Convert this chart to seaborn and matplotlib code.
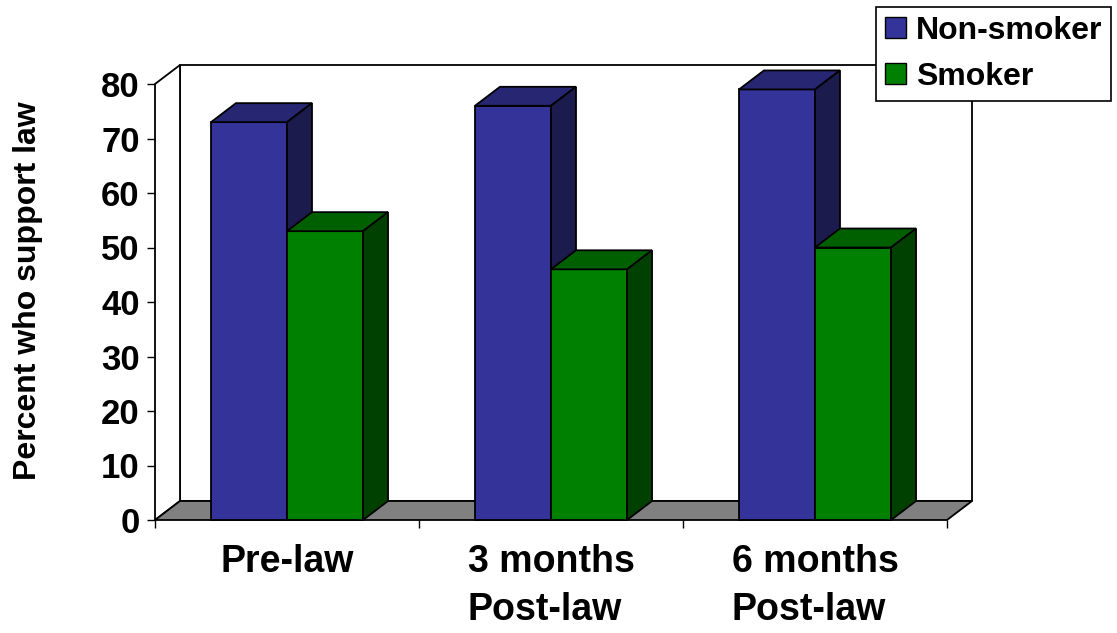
import numpy as np
import pandas as pd
import matplotlib
matplotlib.use("Agg")
import matplotlib.pyplot as plt
import seaborn as sns
from matplotlib.patches import Polygon, Patch

# ---- data ----
categories = ["Pre-law", "3 months\nPost-law", "6 months\nPost-law"]
series = ["Non-smoker", "Smoker"]
non_smoker = [73, 76, 79]
smoker = [53, 46, 50]
y_ticks = [0, 10, 20, 30, 40, 50, 60, 70, 80]
y_label = "Percent who support law"

# ---- styles ----
front_colors = {"Non-smoker": "#333399", "Smoker": "#008000"}
top_colors = {"Non-smoker": "#262673", "Smoker": "#006000"}
side_colors = {"Non-smoker": "#1b1b4d", "Smoker": "#004000"}

df = pd.DataFrame({
    "category": categories * 2,
    "group": [series[0]] * len(categories) + [series[1]] * len(categories),
    "value": non_smoker + smoker,
})

sns.set_theme(style="white")
plt.rcParams["font.family"] = ["Liberation Sans", "DejaVu Sans"]
plt.rcParams["font.weight"] = "bold"
plt.rcParams["text.color"] = "black"

W, H = 1117, 633
fig = plt.figure(figsize=(W / 100, H / 100), dpi=100)
ax = fig.add_axes([155 / W, 113 / H, 792 / W, 436 / H])

sns.barplot(data=df, x="category", y="value", hue="group", order=categories,
            hue_order=series, palette=front_colors, width=0.576, saturation=1,
            errorbar=None, edgecolor="black", linewidth=1.3, legend=False, ax=ax)

# bars grouped by series via containers
bar_groups = []
for gi, cont in enumerate(ax.containers):
    for p in cont.patches:
        bar_groups.append((p, series[gi]))

ymax = y_ticks[-1]
n_cat = len(categories)
ax.set_xlim(-0.5, n_cat - 0.5)
ax.set_ylim(0, ymax)
for s in ax.spines.values():
    s.set_visible(False)

# depth offset (pixels -> data units)
ppx = ax.bbox.width / n_cat
ppy = ax.bbox.height / ymax
DX = 25 / ppx
DY = 19 / ppy

x0, x1 = -0.5, n_cat - 0.5
lw = 1.3
# back wall, left wall, floor
ax.add_patch(Polygon([(x0 + DX, DY), (x1 + DX, DY), (x1 + DX, ymax + DY), (x0 + DX, ymax + DY)],
                     closed=True, facecolor="white", edgecolor="black", lw=lw, zorder=0.2, clip_on=False))
ax.add_patch(Polygon([(x0, 0), (x0, ymax), (x0 + DX, ymax + DY), (x0 + DX, DY)],
                     closed=True, facecolor="white", edgecolor="black", lw=lw, zorder=0.3, clip_on=False))
ax.add_patch(Polygon([(x0, 0), (x1, 0), (x1 + DX, DY), (x0 + DX, DY)],
                     closed=True, facecolor="#808080", edgecolor="black", lw=lw, zorder=0.4, clip_on=False))

# 3D faces on bars, painter's order left to right
bar_groups.sort(key=lambda t: t[0].get_x())
for i, (bar, grp) in enumerate(bar_groups):
    z = 2 + i
    bx0 = bar.get_x()
    bx1 = bx0 + bar.get_width()
    h = bar.get_height()
    bar.set_zorder(z)
    bar.set_clip_on(False)
    ax.add_patch(Polygon([(bx0, h), (bx1, h), (bx1 + DX, h + DY), (bx0 + DX, h + DY)],
                         closed=True, facecolor=top_colors[grp], edgecolor="black",
                         lw=lw, zorder=z, clip_on=False))
    ax.add_patch(Polygon([(bx1, 0), (bx1, h), (bx1 + DX, h + DY), (bx1 + DX, DY)],
                         closed=True, facecolor=side_colors[grp], edgecolor="black",
                         lw=lw, zorder=z, clip_on=False))

# ticks
ax.set_yticks(y_ticks)
ax.set_yticklabels([str(t) for t in y_ticks])
ax.tick_params(axis="y", left=True, length=6, width=1.0, pad=5, labelsize=25,
               colors="black")
ax.set_xticks(np.arange(n_cat + 1) - 0.5)
ax.set_xticklabels([])
ax.set_xticks(np.arange(n_cat), minor=True)
ax.set_xticklabels(categories, minor=True)
ax.tick_params(axis="x", which="major", bottom=True, length=6, width=1.0, colors="black")
ax.tick_params(axis="x", which="minor", bottom=True, length=0, pad=17, labelsize=27,
               labelcolor="black")
for lbl in ax.get_xticklabels(minor=True):
    lbl.set_multialignment("left")
    lbl.set_linespacing(1.44)
    lbl.set_fontweight("bold")
for lbl in ax.get_yticklabels():
    lbl.set_fontweight("bold")
ax.set_xlabel("")
ax.set_ylabel("")

fig.text(28 / W, 1 - 291 / H, y_label, rotation=90, ha="center", va="center",
         fontsize=23, fontweight="bold", color="black")

handles = [Patch(facecolor=front_colors[s], edgecolor="black", label=s) for s in series]
leg = fig.legend(handles=handles, loc="upper right", bbox_to_anchor=(1111 / W, 1 - 7 / H),
                 frameon=True, fancybox=False, edgecolor="black", framealpha=1,
                 fontsize=23, handlelength=0.66, handleheight=0.66, handletextpad=0.3,
                 borderpad=0.28, labelspacing=0.5, borderaxespad=0, labelcolor="black")
leg.get_frame().set_linewidth(1.2)
for t in leg.get_texts():
    t.set_fontweight("bold")

fig.savefig("out.png", dpi=100)
